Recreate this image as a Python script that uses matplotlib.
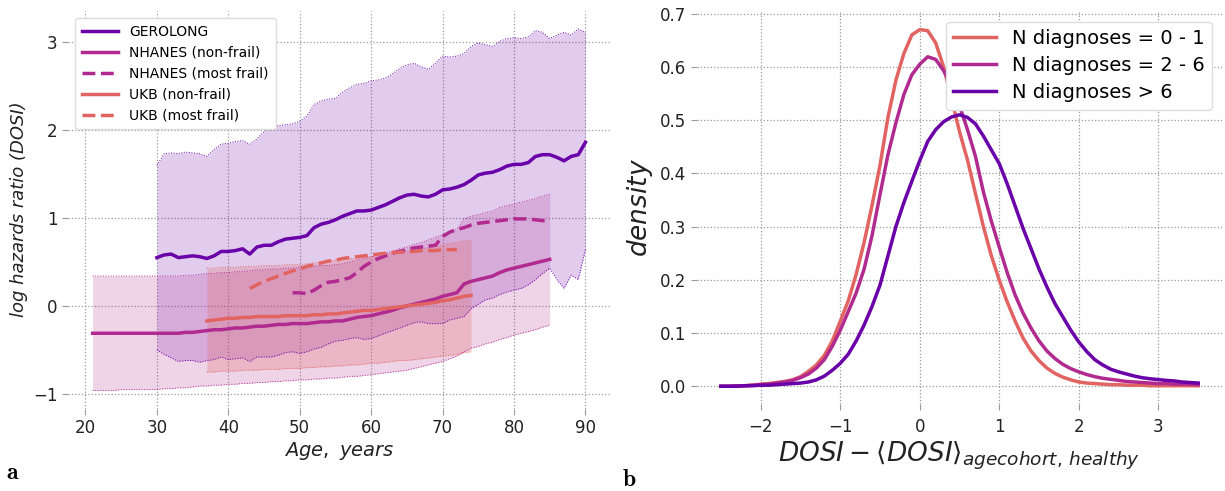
import numpy as np
import matplotlib
matplotlib.use('Agg')
import matplotlib.pyplot as plt

plt.rcParams['mathtext.fontset'] = 'dejavusans'
plt.rcParams['font.family'] = ['DejaVu Sans']

# ---------------- panel a: log hazards ratio vs age ----------------
ger_age = np.arange(30, 91)
ger_mean = [0.55, 0.58, 0.59, 0.55, 0.56, 0.57, 0.56, 0.54, 0.57, 0.62,
            0.62, 0.63, 0.65, 0.59, 0.67, 0.69, 0.69, 0.73, 0.76, 0.77,
            0.78, 0.80, 0.89, 0.93, 0.95, 0.98, 1.02, 1.05, 1.08, 1.08,
            1.09, 1.12, 1.15, 1.19, 1.23, 1.26, 1.27, 1.25, 1.24, 1.27,
            1.32, 1.33, 1.35, 1.38, 1.43, 1.49, 1.51, 1.52, 1.55, 1.59,
            1.61, 1.61, 1.63, 1.70, 1.72, 1.72, 1.69, 1.65, 1.70, 1.72,
            1.86]
ger_upper = [1.60, 1.73, 1.74, 1.73, 1.75, 1.74, 1.73, 1.70, 1.78, 1.84,
             1.85, 1.87, 1.88, 1.84, 1.90, 1.98, 2.03, 2.05, 2.06, 2.07,
             2.10, 2.16, 2.29, 2.33, 2.35, 2.36, 2.43, 2.48, 2.52, 2.53,
             2.56, 2.57, 2.59, 2.64, 2.70, 2.74, 2.76, 2.72, 2.69, 2.76,
             2.84, 2.83, 2.84, 2.87, 2.95, 2.99, 2.97, 2.95, 3.01, 3.04,
             3.05, 3.04, 3.06, 3.13, 3.11, 3.04, 3.08, 3.11, 3.08, 3.15,
             3.11]
ger_lower = [-0.50, -0.55, -0.59, -0.63, -0.62, -0.62, -0.64, -0.62, -0.61, -0.58,
             -0.61, -0.60, -0.59, -0.63, -0.58, -0.58, -0.58, -0.56, -0.53, -0.52,
             -0.54, -0.52, -0.49, -0.47, -0.43, -0.40, -0.39, -0.37, -0.36, -0.38,
             -0.37, -0.34, -0.31, -0.28, -0.25, -0.22, -0.19, -0.18, -0.20, -0.20,
             -0.20, -0.16, -0.14, -0.12, -0.03, 0.02, 0.07, 0.09, 0.13, 0.16,
             0.18, 0.20, 0.24, 0.30, 0.37, 0.43, 0.30, 0.20, 0.35, 0.30,
             0.64]

nh_age = np.arange(21, 86)
nh_mean = [-0.31, -0.31, -0.31, -0.31, -0.31, -0.31, -0.31, -0.31, -0.31, -0.31,
           -0.31, -0.31, -0.31, -0.30, -0.30, -0.29, -0.28, -0.27, -0.27, -0.26,
           -0.25, -0.25, -0.24, -0.23, -0.23, -0.22, -0.21, -0.21, -0.20, -0.20,
           -0.20, -0.19, -0.18, -0.18, -0.17, -0.17, -0.15, -0.13, -0.12, -0.11,
           -0.09, -0.07, -0.05, -0.02, 0.00, 0.02, 0.04, 0.06, 0.08, 0.11,
           0.13, 0.15, 0.25, 0.28, 0.30, 0.32, 0.34, 0.38, 0.41, 0.43,
           0.45, 0.47, 0.49, 0.51, 0.53]
nh_upper = [0.34, 0.34, 0.34, 0.34, 0.34, 0.34, 0.34, 0.34, 0.34, 0.34,
            0.34, 0.34, 0.34, 0.35, 0.35, 0.36, 0.37, 0.37, 0.38, 0.38,
            0.39, 0.39, 0.40, 0.41, 0.41, 0.42, 0.42, 0.43, 0.43, 0.44,
            0.44, 0.45, 0.46, 0.46, 0.47, 0.48, 0.50, 0.52, 0.54, 0.56,
            0.58, 0.60, 0.62, 0.65, 0.67, 0.70, 0.72, 0.75, 0.78, 0.81,
            0.84, 0.87, 0.99, 1.02, 1.04, 1.06, 1.08, 1.12, 1.14, 1.16,
            1.18, 1.20, 1.22, 1.25, 1.27]
nh_lower = [-0.96, -0.96, -0.96, -0.96, -0.95, -0.95, -0.95, -0.95, -0.95, -0.95,
            -0.94, -0.94, -0.93, -0.93, -0.92, -0.91, -0.91, -0.90, -0.90, -0.89,
            -0.89, -0.88, -0.88, -0.87, -0.87, -0.86, -0.86, -0.85, -0.85, -0.84,
            -0.84, -0.83, -0.83, -0.82, -0.82, -0.81, -0.80, -0.80, -0.79, -0.78,
            -0.77, -0.76, -0.75, -0.74, -0.73, -0.71, -0.69, -0.67, -0.65, -0.63,
            -0.60, -0.57, -0.52, -0.48, -0.46, -0.43, -0.41, -0.38, -0.36, -0.33,
            -0.31, -0.29, -0.27, -0.24, -0.22]

nh_frail_age = np.arange(49, 86)
nh_frail = [0.15, 0.15, 0.14, 0.18, 0.23, 0.27, 0.28, 0.30, 0.32, 0.38,
            0.45, 0.50, 0.54, 0.57, 0.60, 0.62, 0.64, 0.66, 0.67, 0.68,
            0.69, 0.79, 0.84, 0.87, 0.89, 0.92, 0.94, 0.95, 0.96, 0.97,
            0.98, 0.99, 0.99, 0.99, 0.98, 0.97, 0.96]

ukb_age = np.arange(37, 75)
ukb_mean = [-0.17, -0.16, -0.15, -0.14, -0.14, -0.13, -0.13, -0.12, -0.12, -0.12,
            -0.12, -0.11, -0.11, -0.11, -0.11, -0.10, -0.10, -0.09, -0.09, -0.08,
            -0.07, -0.06, -0.05, -0.05, -0.04, -0.03, -0.02, -0.01, 0.00, 0.01,
            0.02, 0.03, 0.04, 0.06, 0.07, 0.09, 0.11, 0.12]
ukb_upper = [0.43, 0.43, 0.44, 0.44, 0.44, 0.45, 0.45, 0.45, 0.46, 0.46,
             0.46, 0.47, 0.47, 0.47, 0.48, 0.49, 0.50, 0.51, 0.52, 0.53,
             0.54, 0.54, 0.55, 0.56, 0.57, 0.59, 0.60, 0.61, 0.62, 0.64,
             0.65, 0.66, 0.68, 0.69, 0.71, 0.72, 0.74, 0.75]
ukb_lower = [-0.75, -0.75, -0.74, -0.74, -0.74, -0.73, -0.73, -0.73, -0.72, -0.72,
             -0.72, -0.71, -0.71, -0.71, -0.70, -0.70, -0.69, -0.69, -0.68, -0.68,
             -0.67, -0.67, -0.66, -0.65, -0.65, -0.64, -0.63, -0.62, -0.62, -0.61,
             -0.60, -0.59, -0.58, -0.57, -0.56, -0.55, -0.53, -0.52]

ukb_frail_age = np.arange(43, 73)
ukb_frail = [0.20, 0.24, 0.28, 0.31, 0.34, 0.37, 0.40, 0.42, 0.45, 0.47,
             0.49, 0.51, 0.52, 0.54, 0.55, 0.56, 0.57, 0.58, 0.59, 0.60,
             0.61, 0.61, 0.62, 0.62, 0.63, 0.63, 0.63, 0.64, 0.64, 0.64]

# ---------------- panel b: density curves ----------------
dosi_x = np.round(np.arange(-2.5, 3.51, 0.1), 2)
dens_low = [0.000, 0.000, 0.001, 0.001, 0.002, 0.004, 0.005, 0.007, 0.009, 0.012,
            0.018, 0.028, 0.040, 0.058, 0.085, 0.122, 0.160, 0.210, 0.270, 0.340,
            0.415, 0.505, 0.575, 0.625, 0.660, 0.670, 0.668, 0.645, 0.600, 0.540,
            0.478, 0.425, 0.362, 0.300, 0.245, 0.199, 0.158, 0.122, 0.090, 0.066,
            0.048, 0.034, 0.024, 0.017, 0.012, 0.008, 0.006, 0.005, 0.004, 0.003,
            0.003, 0.002, 0.002, 0.002, 0.001, 0.001, 0.001, 0.001, 0.001, 0.001,
            0.001]
dens_mid = [0.000, 0.000, 0.001, 0.001, 0.002, 0.003, 0.004, 0.006, 0.008, 0.011,
            0.016, 0.023, 0.034, 0.050, 0.075, 0.105, 0.140, 0.175, 0.220, 0.283,
            0.360, 0.435, 0.495, 0.548, 0.585, 0.605, 0.619, 0.614, 0.593, 0.562,
            0.527, 0.482, 0.432, 0.365, 0.310, 0.261, 0.213, 0.171, 0.137, 0.109,
            0.085, 0.066, 0.052, 0.041, 0.033, 0.027, 0.022, 0.018, 0.015, 0.013,
            0.011, 0.009, 0.008, 0.007, 0.006, 0.005, 0.005, 0.004, 0.004, 0.004,
            0.003]
dens_high = [0.000, 0.000, 0.000, 0.001, 0.001, 0.002, 0.002, 0.003, 0.004, 0.005,
             0.006, 0.008, 0.012, 0.019, 0.030, 0.043, 0.060, 0.085, 0.115, 0.150,
             0.190, 0.245, 0.300, 0.345, 0.385, 0.424, 0.460, 0.482, 0.497, 0.506,
             0.510, 0.505, 0.493, 0.470, 0.444, 0.418, 0.380, 0.338, 0.296, 0.258,
             0.220, 0.186, 0.155, 0.130, 0.105, 0.083, 0.065, 0.050, 0.040, 0.032,
             0.027, 0.023, 0.019, 0.016, 0.014, 0.0125, 0.011, 0.010, 0.008, 0.007,
             0.006]

c_ger = '#6a00a8'
c_nh = '#b12a90'
c_ukb = '#e16462'

fig = plt.figure(figsize=(12.25, 4.91), dpi=100)
ax1 = fig.add_axes([0.0555, 0.168, 0.4425, 0.810])
ax2 = fig.add_axes([0.569, 0.177, 0.4286, 0.799])


def style(ax):
    for s in ax.spines.values():
        s.set_visible(False)
    ax.grid(True, color='#999999', linestyle=':', linewidth=0.9)
    ax.set_axisbelow(True)
    ax.tick_params(colors='#999999', labelcolor='#222222', length=4,
                   width=0.8, labelsize=12)


style(ax1)
# bands
ax1.fill_between(ger_age, ger_lower, ger_upper, color=c_ger, alpha=0.2, lw=0)
ax1.plot(ger_age, ger_upper, color=c_ger, lw=0.7, ls=':')
ax1.plot(ger_age, ger_lower, color=c_ger, lw=0.7, ls=':')
ax1.fill_between(nh_age, nh_lower, nh_upper, color=c_nh, alpha=0.2, lw=0)
ax1.plot(nh_age, nh_upper, color=c_nh, lw=0.7, ls=':')
ax1.plot(nh_age, nh_lower, color=c_nh, lw=0.7, ls=':')
ax1.fill_between(ukb_age, ukb_lower, ukb_upper, color=c_ukb, alpha=0.25, lw=0)
ax1.plot(ukb_age, ukb_upper, color=c_ukb, lw=0.7, ls=':')
ax1.plot(ukb_age, ukb_lower, color=c_ukb, lw=0.7, ls=':')
# lines
ax1.plot(ger_age, ger_mean, color=c_ger, lw=2.5, label='GEROLONG', zorder=5)
ax1.plot(nh_age, nh_mean, color=c_nh, lw=2.5, label='NHANES (non-frail)', zorder=5)
ax1.plot(nh_frail_age, nh_frail, color=c_nh, lw=2.5, ls='--', label='NHANES (most frail)', zorder=5)
ax1.plot(ukb_age, ukb_mean, color=c_ukb, lw=2.5, label='UKB (non-frail)', zorder=5)
ax1.plot(ukb_frail_age, ukb_frail, color=c_ukb, lw=2.5, ls='--', label='UKB (most frail)', zorder=5)

ax1.set_xticks([20, 30, 40, 50, 60, 70, 80, 90])
ax1.set_yticks([-1, 0, 1, 2, 3])
ax1.set_xlabel(r'$Age,\ years$', fontsize=14, color='#222222', labelpad=2)
ax1.set_ylabel('log hazards ratio (DOSI)', fontsize=13, style='italic',
               color='#222222', labelpad=4)
ax1.legend(loc='upper left', fontsize=10, framealpha=1, edgecolor='#dddddd',
           handlelength=2.6, borderpad=0.5, labelspacing=0.5)

style(ax2)
ax2.tick_params(axis='x', pad=6)
ax2.plot(dosi_x, dens_low, color=c_ukb, lw=2.5, label='N diagnoses = 0 - 1')
ax2.plot(dosi_x, dens_mid, color=c_nh, lw=2.5, label='N diagnoses = 2 - 6')
ax2.plot(dosi_x, dens_high, color=c_ger, lw=2.5, label='N diagnoses > 6')
ax2.set_xticks([-2, -1, 0, 1, 2, 3])
ax2.set_yticks([0.0, 0.1, 0.2, 0.3, 0.4, 0.5, 0.6, 0.7])
ax2.set_xlabel(r'$DOSI - \langle DOSI\rangle_{agecohort,\,healthy}$',
               fontsize=19, color='#222222', labelpad=3)
ax2.set_ylabel(r'$density$', fontsize=19, color='#222222', labelpad=4)
ax2.legend(loc='upper right', fontsize=14, framealpha=1, edgecolor='#dddddd',
           handlelength=2.2, borderpad=0.4, labelspacing=0.4)

fig.text(0.005, 0.025, r'$\mathbf{a}$', fontsize=17, math_fontfamily='cm')
fig.text(0.508, 0.01, r'$\mathbf{b}$', fontsize=17, math_fontfamily='cm')

fig.savefig('out.png', dpi=100)
